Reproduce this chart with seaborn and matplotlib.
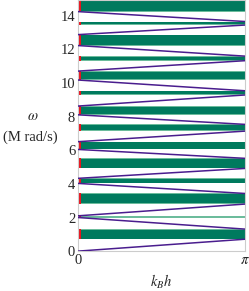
import numpy as np
import matplotlib
matplotlib.use("Agg")
import matplotlib.pyplot as plt
import seaborn as sns
import pandas as pd

sns.set_style("white")
plt.rcParams['font.family'] = ['Liberation Serif', 'DejaVu Serif']
plt.rcParams['mathtext.fontset'] = 'stix'

# Band gaps (M rad/s): bottom and top edges
gap_bottom = [0.71, 2.00, 2.80, 4.03, 4.92, 6.05, 7.14, 8.11, 9.29, 10.18, 11.33, 12.23, 13.45, 14.25]
gap_top    = [1.31, 2.10, 3.43, 4.33, 5.52, 6.51, 7.54, 8.63, 9.54, 10.71, 11.60, 12.88, 13.66, 15.00]

# Pass bands: start (k=0) and end (k=pi) frequencies
band_k0 = [0.00, 2.00, 2.10, 4.03, 4.33, 6.05, 6.51, 8.11, 8.63, 10.18, 10.71, 12.23, 12.88, 14.25]
band_kpi = [0.71, 1.31, 2.80, 3.43, 4.92, 5.52, 7.14, 7.54, 9.29, 9.54, 11.33, 11.60, 13.45, 13.66]

yticks = [0, 2, 4, 6, 8, 10, 12, 14]

fig = plt.figure(figsize=(2.49, 2.91), dpi=100)
ax = fig.add_axes([0.313, 0.137, 0.671, 0.863])

dark_green = "#007a5e"
light_green = "#6cbc9c"
red = "#e8141e"
purple = "#4a1d8e"

for b, t in zip(gap_bottom, gap_top):
    ax.axhspan(b, t, facecolor=light_green, edgecolor='none', zorder=1)
    pad = 0.04
    ax.axhspan(b + pad, t - pad, facecolor=dark_green, edgecolor='none', zorder=1.5)
    ax.axhspan(b, t, xmin=0, xmax=0.018, facecolor=red, edgecolor='none', zorder=2)

rows = []
for i, (a, c) in enumerate(zip(band_k0, band_kpi)):
    rows.append({"band": i, "k": 0.0, "w": a})
    rows.append({"band": i, "k": np.pi, "w": c})
df = pd.DataFrame(rows)
sns.lineplot(data=df, x="k", y="w", units="band", estimator=None, color=purple,
             linewidth=1.1, ax=ax, zorder=3)

ax.set_xlim(0, np.pi)
ax.set_ylim(0, 14.94)
ax.set_xticks([0, np.pi])
ax.set_xticklabels(["0", r"$\pi$"])
ax.set_yticks(yticks)
ax.set_yticklabels([str(v) for v in yticks])
ax.tick_params(axis='both', length=0, labelsize=10.5, pad=2)
ax.set_xlabel(r"$k_B h$", fontsize=10.5, labelpad=4.5)
ax.set_ylabel("")
fig.text(0.13, 0.60, r"$\omega$", fontsize=10.5, ha='center', va='center')
fig.text(0.12, 0.53, "(M rad/s)", fontsize=10.5, ha='center', va='center')

for s in ax.spines.values():
    s.set_color("#cccccc")
    s.set_linewidth(0.8)

fig.savefig("out.png", dpi=100)
